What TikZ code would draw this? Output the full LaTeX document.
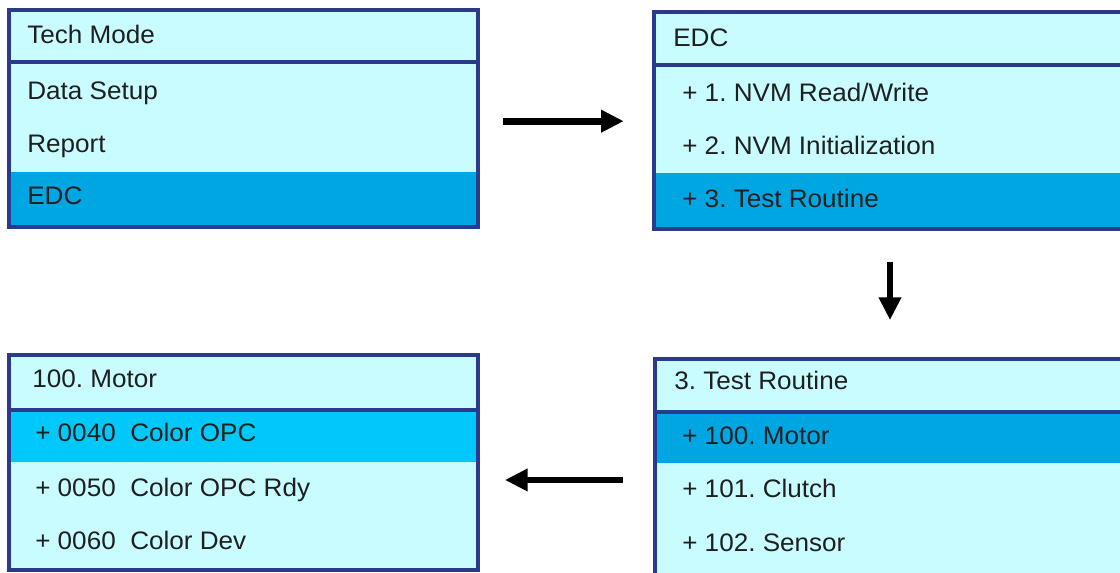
\documentclass[tikz,border=0pt]{standalone}
\usepackage{fontspec}
\setmainfont[FakeStretch=1.03]{Liberation Sans}
\usepackage{xcolor}
\usetikzlibrary{arrows.meta,positioning,fit}

\definecolor{panelbg}{RGB}{200,252,255}
\definecolor{rowsel}{RGB}{0,166,226}
\definecolor{rowsellight}{RGB}{0,200,250}
\definecolor{frameblue}{RGB}{43,58,140}
\frenchspacing

\begin{document}
\begin{tikzpicture}[x=0.75pt, y=-0.75pt,
    panelframe/.style={draw=frameblue, line width=3.4pt, inner sep=0pt},
    divider/.style={draw=frameblue, line width=3.4pt},
    rowtext/.style={anchor=west, inner sep=0pt, text height=0.716em, text depth=0pt,
      text=black!88, font=\fontsize{19}{22}\selectfont},
    flowarrow/.style={line width=5.2pt, -{Triangle[length=17pt,width=16pt]}}]
    \useasboundingbox (0,0) rectangle (1120,572);
    \clip (0,0) rectangle (1120,572);

    % Tech Mode
    \fill[panelbg] (9,10) rectangle (478,227);
    \fill[rowsel] (9,172) rectangle (478,227);
    \node[panelframe, fit={(9,10) (478,227)}] (m1) {};
    \draw[divider] (9,62) -- (478,62);
    \node[rowtext] (m1title) at (27,39) {Tech Mode};
    \node[rowtext] (m1a) at (27,95) {Data Setup};
    \node[rowtext] (m1b) at (27,148) {Report};
    \node[rowtext] (m1c) at (27,200) {EDC};

    % EDC
    \fill[panelbg] (654,12) rectangle (1126,229);
    \fill[rowsel] (654,173) rectangle (1126,229);
    \node[panelframe, fit={(654,12) (1126,229)}] (m2) {};
    \draw[divider] (654,65) -- (1126,65);
    \node[rowtext] (m2title) at (673,42) {EDC};
    \node[rowtext] (m2a) at (682,97) {+ 1. NVM Read/Write};
    \node[rowtext] (m2b) at (682,150) {+ 2. NVM Initialization};
    \node[rowtext] (m2c) at (682,203) {+ 3. Test Routine};

    % 100. Motor
    \fill[panelbg] (9,355) rectangle (478,570);
    \fill[rowsellight] (9,410) rectangle (478,462);
    \node[panelframe, fit={(9,355) (478,570)}] (m3) {};
    \draw[divider] (9,410) -- (478,410);
    \node[rowtext] (m3title) at (32,383) {100. Motor};
    \node[rowtext] (m3a) at (35,437) {+ 0040\ \ Color OPC};
    \node[rowtext] (m3b) at (35,492) {+ 0050\ \ Color OPC Rdy};
    \node[rowtext] (m3c) at (35,545) {+ 0060\ \ Color Dev};

    % 3. Test Routine
    \fill[panelbg] (655,359) rectangle (1126,578);
    \fill[rowsel] (655,412) rectangle (1126,463);
    \node[panelframe, fit={(655,359) (1126,578)}] (m4) {};
    \draw[divider] (655,412) -- (1126,412);
    \node[rowtext] (m4title) at (674,385) {3. Test Routine};
    \node[rowtext] (m4a) at (682,440) {+ 100. Motor};
    \node[rowtext] (m4b) at (682,493) {+ 101. Clutch};
    \node[rowtext] (m4c) at (682,547) {+ 102. Sensor};

    % flow
    \draw[flowarrow, shorten <=17pt, shorten >=21pt]
      ([yshift=-2pt]m1.east) -- ([yshift=-2pt]m1.east -| m2.west);
    \draw[flowarrow, shorten <=23pt, shorten >=27.5pt]
      (m2.south) -- (m2.south |- m4.north);
    \draw[flowarrow, shorten <=22pt, shorten >=18.5pt]
      ([yshift=-8.6pt]m4.west) -- ([yshift=-8.6pt]m4.west -| m3.east);
  \end{tikzpicture}
\end{document}
